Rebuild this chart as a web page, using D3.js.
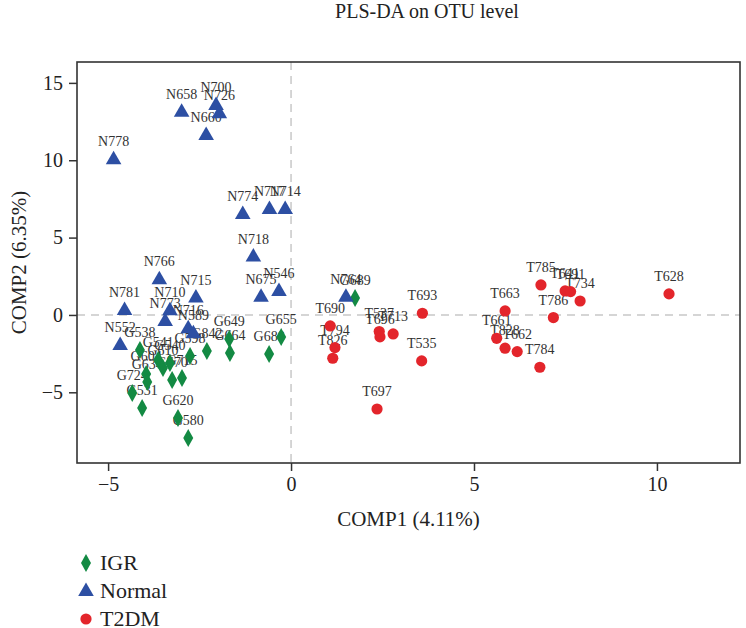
<!DOCTYPE html>
<html><head><meta charset="utf-8">
<script src="https://cdn.jsdelivr.net/npm/d3@7"></script>
<style>body{margin:0;background:#fff}svg{display:block}</style>
</head><body>
<svg id="chart" width="746" height="628"></svg>
<script>
// ---- data ----
const igrNames = ["G538","G541","G540","G598","G604","G610","G634","G670","G715","G724","G531","G620","G580","G842","G649","G664","G655","G688","G689"];
const igrX = [-4.13,-3.63,-3.31,-2.76,-3.96,-3.50,-3.93,-3.25,-2.98,-4.34,-4.07,-3.09,-2.81,-2.30,-1.69,-1.67,-0.27,-0.60,1.75];
const igrY = [-2.26,-2.91,-3.10,-2.65,-3.81,-3.43,-4.33,-4.20,-4.07,-5.04,-6.01,-6.66,-7.95,-2.33,-1.55,-2.46,-1.42,-2.52,1.10];

const normalNames = ["N658","N700","N726","N660","N778","N774","N717","N714","N718","N766","N715","N781","N710","N773","N716","N589","N552","N675","N546","N764"];
const normalX = [-2.99,-2.05,-1.96,-2.32,-4.85,-1.32,-0.59,-0.16,-1.03,-3.60,-2.60,-4.55,-3.31,-3.44,-2.81,-2.67,-4.67,-0.82,-0.33,1.50];
const normalY = [13.14,13.57,13.04,11.63,10.06,6.53,6.85,6.85,3.77,2.31,1.12,0.32,0.30,-0.39,-0.86,-1.18,-1.94,1.18,1.55,1.18];

const t2dmNames = ["T690","T794","T826","T537","T696","T713","T693","T535","T697","T785","T641","T691","T734","T786","T663","T661","T828","T662","T784","T628"];
const t2dmX = [1.07,1.20,1.14,2.41,2.43,2.79,3.59,3.57,2.35,6.83,7.49,7.64,7.90,7.17,5.85,5.62,5.85,6.18,6.80,10.33];
const t2dmY = [-0.71,-2.11,-2.80,-1.07,-1.42,-1.23,0.11,-2.97,-6.08,1.94,1.55,1.51,0.90,-0.17,0.26,-1.51,-2.15,-2.37,-3.38,1.36];

const xTicks = [-5,0,5,10];
const yTicks = [-5,0,5,10,15];
const groups = ["IGR","Normal","T2DM"];
const colors = ["#138a43","#2d4fa3","#e3252b"];
const titleText = "PLS-DA on OTU level";
const xTitle = "COMP1 (4.11%)";
const yTitle = "COMP2 (6.35%)";

// ---- layout ----
const L = 77, R = 740, T = 62, B = 463;
const x = d3.scaleLinear().domain([-5.85, 12.27]).range([L, R]);
const y = d3.scaleLinear().domain([-9.57, 16.35]).range([B, T]);
const FONT = "'Liberation Serif','DejaVu Serif',serif";

const svg = d3.select("#chart");

const shapes = {
  IGR: "M0,-9L5,0L0,9L-5,0Z",
  Normal: "M0,-8.5L7.8,5L-7.8,5Z",
  T2DM: d3.symbol().type(d3.symbolCircle).size(Math.PI*5.6*5.6)()
};

// title
svg.append("text").attr("x", 427).attr("y", 18).attr("text-anchor","middle")
  .attr("font-family", FONT).attr("font-size", 20).attr("fill","#222").text(titleText);

// dashed reference lines
svg.append("line").attr("x1", L).attr("x2", R).attr("y1", y(0)).attr("y2", y(0))
  .attr("stroke","#c8c8c8").attr("stroke-width",1.5).attr("stroke-dasharray","8,6");
svg.append("line").attr("x1", x(0)).attr("x2", x(0)).attr("y1", T).attr("y2", B)
  .attr("stroke","#c8c8c8").attr("stroke-width",1.5).attr("stroke-dasharray","8,6");

// axes
const xAxis = svg.append("g").attr("transform", `translate(0,${B})`)
  .call(d3.axisBottom(x).tickValues(xTicks).tickSize(8).tickPadding(6).tickFormat(d => d < 0 ? "\u2212" + Math.abs(d) : d));
const yAxis = svg.append("g").attr("transform", `translate(${L},0)`)
  .call(d3.axisLeft(y).tickValues(yTicks).tickSize(8).tickPadding(6).tickFormat(d => d < 0 ? "\u2212" + Math.abs(d) : d));
[xAxis, yAxis].forEach(g => {
  g.select(".domain").remove();
  g.selectAll(".tick line").attr("stroke","#333").attr("stroke-width",1.5);
  g.selectAll(".tick text").attr("font-family", FONT).attr("font-size", 20).attr("fill","#222");
});

// frame
svg.append("rect").attr("x", L).attr("y", T).attr("width", R-L).attr("height", B-T)
  .attr("fill","none").attr("stroke","#333").attr("stroke-width",1.6);

// axis titles
svg.append("text").attr("x", (L+R)/2).attr("y", 526).attr("text-anchor","middle")
  .attr("font-family", FONT).attr("font-size", 21).attr("fill","#222").text(xTitle);
svg.append("text").attr("transform", `translate(26,${(T+B)/2}) rotate(-90)`).attr("text-anchor","middle")
  .attr("font-family", FONT).attr("font-size", 21).attr("fill","#222").text(yTitle);

// points
const series = [
  {g:"IGR", names: igrNames, xs: igrX, ys: igrY},
  {g:"Normal", names: normalNames, xs: normalX, ys: normalY},
  {g:"T2DM", names: t2dmNames, xs: t2dmX, ys: t2dmY}
];
const pts = [];
series.forEach((s, si) => s.names.forEach((n, i) => pts.push({g:s.g, ci:si, name:n, x:s.xs[i], y:s.ys[i]})));

svg.append("g").selectAll("text").data(pts).join("text")
  .attr("x", d => x(d.x)).attr("y", d => y(d.y) - 13)
  .attr("text-anchor","middle").attr("font-family", FONT).attr("font-size", 14).attr("fill","#333")
  .text(d => d.name);

svg.append("g").selectAll("path").data(pts).join("path")
  .attr("transform", d => `translate(${x(d.x)},${y(d.y)})`)
  .attr("d", d => shapes[d.g]).attr("fill", d => colors[d.ci]);

// legend
const lg = svg.append("g");
groups.forEach((g, i) => {
  const yy = 563 + i*28;
  lg.append("path").attr("transform", `translate(86,${yy})`).attr("d", shapes[g]).attr("fill", colors[i]);
  lg.append("text").attr("x", 100).attr("y", yy + 7).attr("font-family", FONT).attr("font-size", 22)
    .attr("fill","#222").text(g);
});
</script>
</body></html>
